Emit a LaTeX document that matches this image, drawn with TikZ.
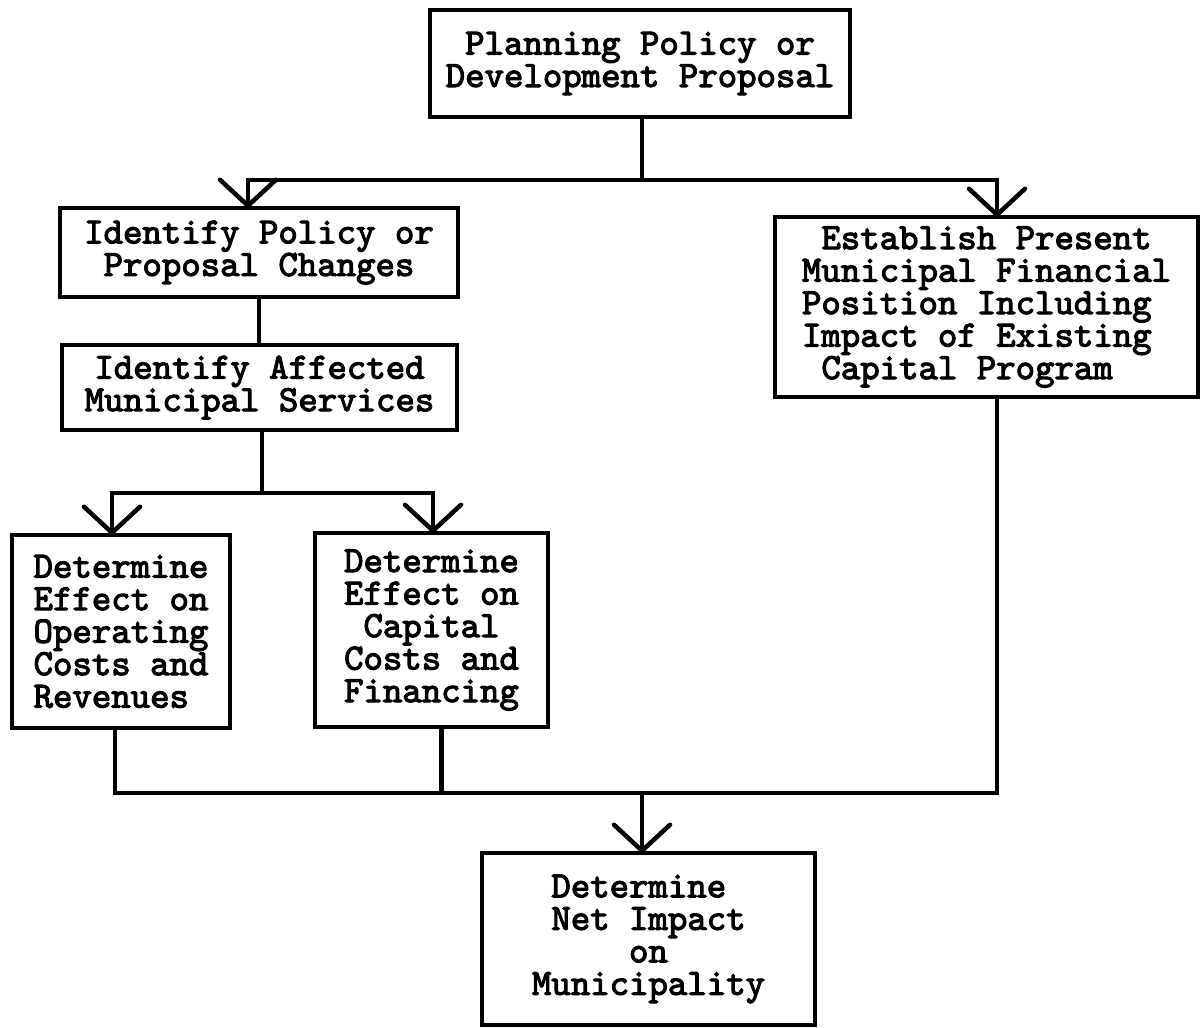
\documentclass[tikz,border=0pt]{standalone}
\usepackage{fontspec}
\usetikzlibrary{arrows.meta}
% heavy typewriter face for the box texts
\newfontfamily\twfont{lmmono10-regular.otf}[FakeBold=3]
\begin{document}
\begin{tikzpicture}[x=1pt,y=-1pt,
  line width=4.5pt,
  box/.style={draw, line width=4.5pt, inner sep=0pt, outer sep=0pt,
    font=\twfont\fontsize{37}{32.5}\selectfont},
  arr/.style={-{Straight Barb[length=26pt,width=56pt,round]}}]
\useasboundingbox (0,0) rectangle (1200,1028);

% process boxes
\node[box, align=center, minimum width=420pt, minimum height=107pt] (top) at (640,63.5)
  {Planning Policy or\\Development Proposal};
\node[box, align=center, minimum width=398pt, minimum height=89pt] (idp) at (259,252.5)
  {Identify Policy or\\Proposal Changes};
\node[box, align=center, minimum width=395pt, minimum height=85pt] (ida) at (259.5,387.5)
  {Identify Affected\\Municipal Services};
\node[box, align=left, minimum width=423pt, minimum height=180pt] (est) at (986.5,307)
  {\hspace{0.525em}Establish Present\\Municipal Financial\\Position Including\\Impact of Existing\\\hspace{0.525em}Capital Program};
\node[box, align=left, minimum width=218pt, minimum height=193pt] (op) at (121,631.5)
  {Determine\\Effect on\\Operating\\Costs and\\Revenues};
\node[box, align=center, minimum width=233pt, minimum height=194pt] (cap) at (431.5,630)
  {Determine\\Effect on\\Capital\\Costs and\\Financing};
\node[box, align=left, minimum width=333pt, minimum height=172pt] (net) at (648.5,939)
  {\hspace{0.525em}Determine\\\hspace{0.525em}Net Impact\\\hspace{2.625em}on\\Municipality};

% junction points
\coordinate (j1) at (642,180);
\coordinate (j2) at (262,493);
\coordinate (j3) at (642,793);

% split from the proposal
\draw (top.south -| j1) -- (j1);
\draw[arr] (j1) -| ([xshift=-11pt]idp.north);
\draw[arr] (j1) -| ([xshift=10.5pt]est.north);

% left chain
\draw (idp.south) -- (idp.south |- ida.north);
\draw (ida.south -| j2) -- (j2);
\draw[arr] (j2) -| ([xshift=-9pt]op.north);
\draw[arr] (j2) -| ([xshift=1.5pt]cap.north);

% merge into the net impact
\draw ([xshift=-6pt]op.south) |- ([xshift=10.5pt]est.south |- j3) -- ([xshift=10.5pt]est.south);
\draw ([xshift=10pt]cap.south) -- ([xshift=10pt]cap.south |- j3);
\draw[arr] (j3) -- (net.north -| j3);
\end{tikzpicture}
\end{document}
